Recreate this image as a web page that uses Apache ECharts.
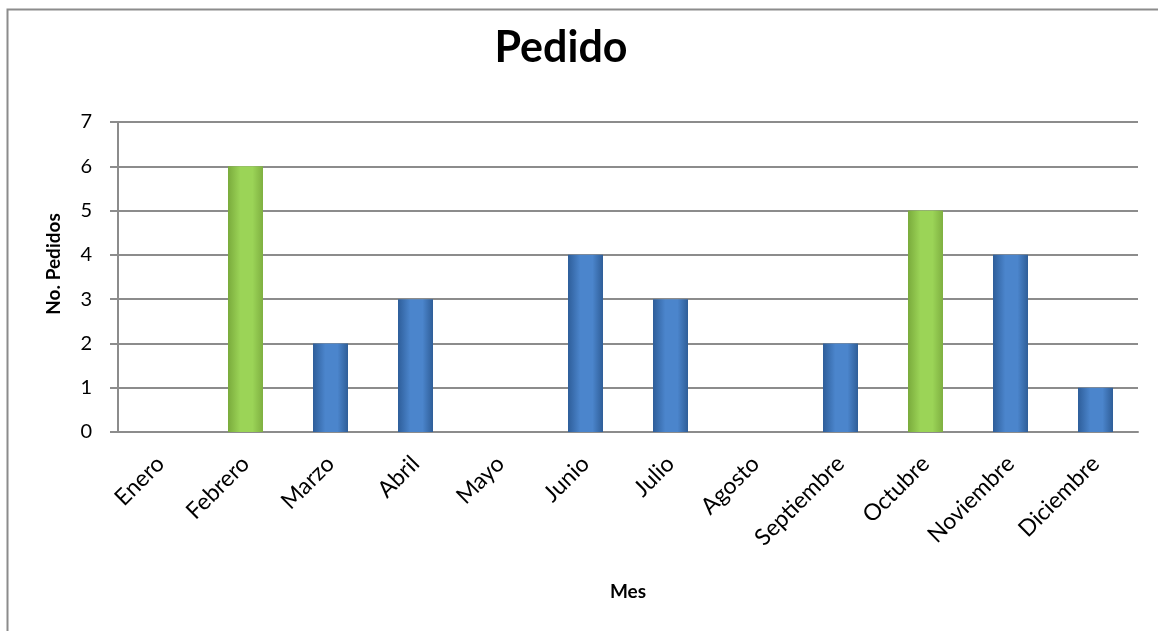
<!DOCTYPE html>
<html><head><meta charset="utf-8">
<script src="https://cdn.jsdelivr.net/npm/echarts@6/dist/echarts.min.js"></script>
<style>html,body{margin:0;padding:0;background:#fff}#c{width:1158px;height:631px}</style>
</head><body><div id="c"></div>
<script>
const categories = ['Enero','Febrero','Marzo','Abril','Mayo','Junio','Julio','Agosto','Septiembre','Octubre','Noviembre','Diciembre'];
const pedidos = [0,6,2,3,0,4,3,0,2,5,4,1];
const highlight = ['Febrero','Octubre'];
const yTicks = [0,1,2,3,4,5,6,7];

const font = 'Lato, "Liberation Sans", sans-serif';
function grad(a,b,c){
  return new echarts.graphic.LinearGradient(0,0,1,0,[
    {offset:0,color:a},{offset:0.35,color:b},{offset:0.7,color:b},{offset:1,color:c}]);
}
const green = grad('#7aab3c','#9bd457','#7fb041');
const blue = grad('#2e5e9a','#4b85cc','#2f5e98');

const chart = echarts.init(document.getElementById('c'));
chart.setOption({
  animation:false,
  graphic:[
    {type:'rect',shape:{x:7.5,y:9.5,width:1200,height:700},style:{fill:'none',stroke:'#8c8c8c',lineWidth:2}},
    {type:'text',x:54,y:264,rotation:Math.PI/2,style:{text:'No. Pedidos',fontFamily:font,fontWeight:'bold',fontSize:19,fill:'#000',align:'center',verticalAlign:'middle'}}
  ],
  title:{text:'Pedido',left:556,top:22,textAlign:'center',textStyle:{fontFamily:font,fontWeight:'bold',fontSize:43,color:'#000'}},
  grid:{left:118,right:20,top:122,bottom:199},
  xAxis:{type:'category',data:categories,
    name:'Mes',nameLocation:'middle',nameGap:150,
    nameTextStyle:{fontFamily:font,fontWeight:'bold',fontSize:19,color:'#000'},
    axisLine:{lineStyle:{color:'#8c8c8c',width:2}},axisTick:{show:false},
    axisLabel:{rotate:45,fontFamily:font,fontSize:23,color:'#000',margin:28,interval:0}},
  yAxis:{type:'value',min:0,max:7,interval:1,
    axisLine:{show:true,lineStyle:{color:'#8c8c8c',width:2}},
    axisTick:{show:true,length:8,lineStyle:{color:'#8c8c8c',width:2}},
    axisLabel:{fontFamily:font,fontSize:20,color:'#000',margin:26,
      formatter:v=>yTicks.includes(v)?String(v):''},
    splitLine:{lineStyle:{color:'#8c8c8c',width:2}}},
  series:[{type:'bar',barWidth:35,
    data:pedidos.map((v,i)=>({value:v,itemStyle:{color:highlight.includes(categories[i])?green:blue}}))}]
});
</script></body></html>
